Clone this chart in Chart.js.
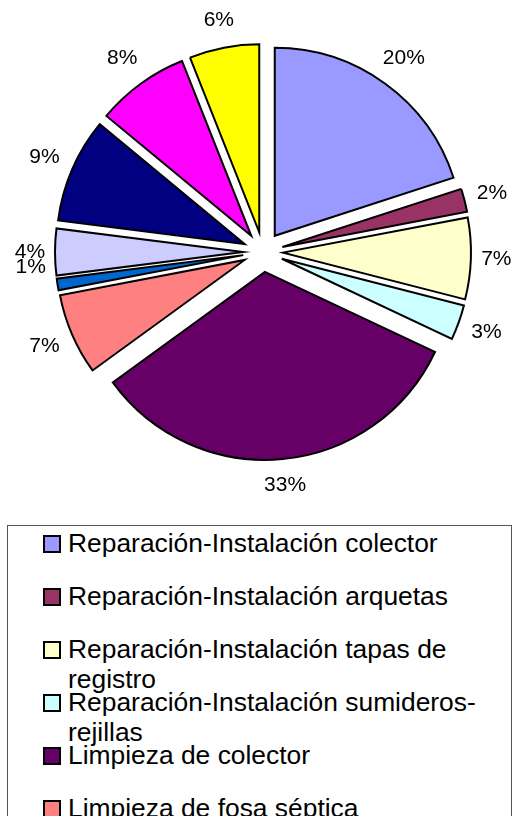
<!DOCTYPE html>
<html lang="es">
<head>
<meta charset="utf-8">
<script src="https://cdn.jsdelivr.net/npm/chart.js@4.4.1/dist/chart.umd.min.js"></script>
<style>
  html, body { margin: 0; padding: 0; background: #fff; overflow: hidden; }
  body { width: 513px; height: 816px; position: relative; font-family: "Liberation Sans", Arial, sans-serif; }
  #pieBox { position: absolute; left: 0; top: 0; width: 513px; height: 504px; }
  #legendBox { position: absolute; left: 7px; top: 525px; width: 505px; height: 420px; border: 1px solid #555; box-sizing: border-box; }
  .item { position: absolute; left: 35px; width: 458px; }
  .swatch { position: absolute; left: 0; top: 7px; width: 18px; height: 18px; border: 2px solid #000; box-sizing: border-box; }
  .text { margin-left: 25px; font-size: 26.4px; line-height: 30px; color: #000; }
</style>
</head>
<body>
<div id="pieBox"><canvas id="pieChart"></canvas></div>
<div id="legendBox"></div>

<script>
// ==================== 数据 ====================

const categories = [
  "Reparación-Instalación colector",
  "Reparación-Instalación arquetas",
  "Reparación-Instalación tapas de registro",
  "Reparación-Instalación sumideros-rejillas",
  "Limpieza de colector",
  "Limpieza de fosa séptica",
  "Limpieza de arquetas",
  "Limpieza de sumideros-rejillas",
  "Desatascos",
  "Inspección con cámara",
  "Otros trabajos",
];
const shares = [20, 2, 7, 3, 33, 7, 1, 4, 9, 8, 6];
const sliceColors = [
  "#9999FF", "#993366", "#FFFFCC", "#CCFFFF", "#660066", "#FF8080",
  "#0066CC", "#CCCCFF", "#000080", "#FF00FF", "#FFFF00",
];

// ==================== 样式常量 ====================

const PIE_RADIUS = 188;
const EXPLODE = 20;          // 每块向外推出的像素
const LEGEND_PITCH = 53;
const LABEL_NUDGE = { 6: -22 }; // 1% 标签在原图中被挤上去

/** 分离式饼图：每块沿中线平移后再画（不用 offset，避免小块变细） */
const explodeSlices = {
  id: "explodeSlices",
  beforeDatasetDraw(chart, args) {
    const ctx = chart.ctx;
    args.meta.data.forEach((arc) => {
      const mid = (arc.startAngle + arc.endAngle) / 2;
      ctx.save();
      ctx.translate(Math.cos(mid) * EXPLODE, Math.sin(mid) * EXPLODE);
      arc.draw(ctx);
      ctx.restore();
    });
    return false;
  },
};

/** 扇形外侧的百分比标签 */
const pctLabels = {
  id: "pctLabels",
  afterDatasetsDraw(chart) {
    const ctx = chart.ctx;
    const total = shares.reduce((a, b) => a + b, 0);
    ctx.save();
    ctx.font = "21px 'Liberation Sans', Arial, sans-serif";
    ctx.fillStyle = "#000";
    ctx.textAlign = "center";
    ctx.textBaseline = "middle";
    chart.getDatasetMeta(0).data.forEach((arc, i) => {
      const mid = (arc.startAngle + arc.endAngle) / 2;
      // 斜向的标签离饼稍远一点（标签是矩形）
      const r = PIE_RADIUS + EXPLODE + 25 + 7 * Math.abs(Math.sin(2 * mid));
      const text = Math.round((shares[i] / total) * 100) + "%";
      const dy = LABEL_NUDGE[i] || 0;
      ctx.fillText(text, arc.x + Math.cos(mid) * r, arc.y + Math.sin(mid) * r + dy);
    });
    ctx.restore();
  },
};

new Chart(document.getElementById("pieChart"), {
  type: "pie",
  data: {
    labels: categories,
    datasets: [{
      data: shares,
      backgroundColor: sliceColors,
      borderColor: "#000",
      borderWidth: 2,
      borderJoinStyle: "miter",
    }],
  },
  options: {
    responsive: true,
    maintainAspectRatio: false,
    animation: false,
    radius: PIE_RADIUS,
    layout: { padding: { left: 13 } },
    events: [],
    plugins: {
      legend: { display: false },
      tooltip: { enabled: false },
    },
  },
  plugins: [explodeSlices, pctLabels],
});

// ==================== 图例 ====================

const legendBox = document.getElementById("legendBox");
legendBox.innerHTML = categories.map((name, i) => `
  <div class="item" style="top:${2 + i * LEGEND_PITCH}px">
    <div class="swatch" style="background:${sliceColors[i]}"></div>
    <div class="text">${name}</div>
  </div>
`).join("");
</script>
</body>
</html>
